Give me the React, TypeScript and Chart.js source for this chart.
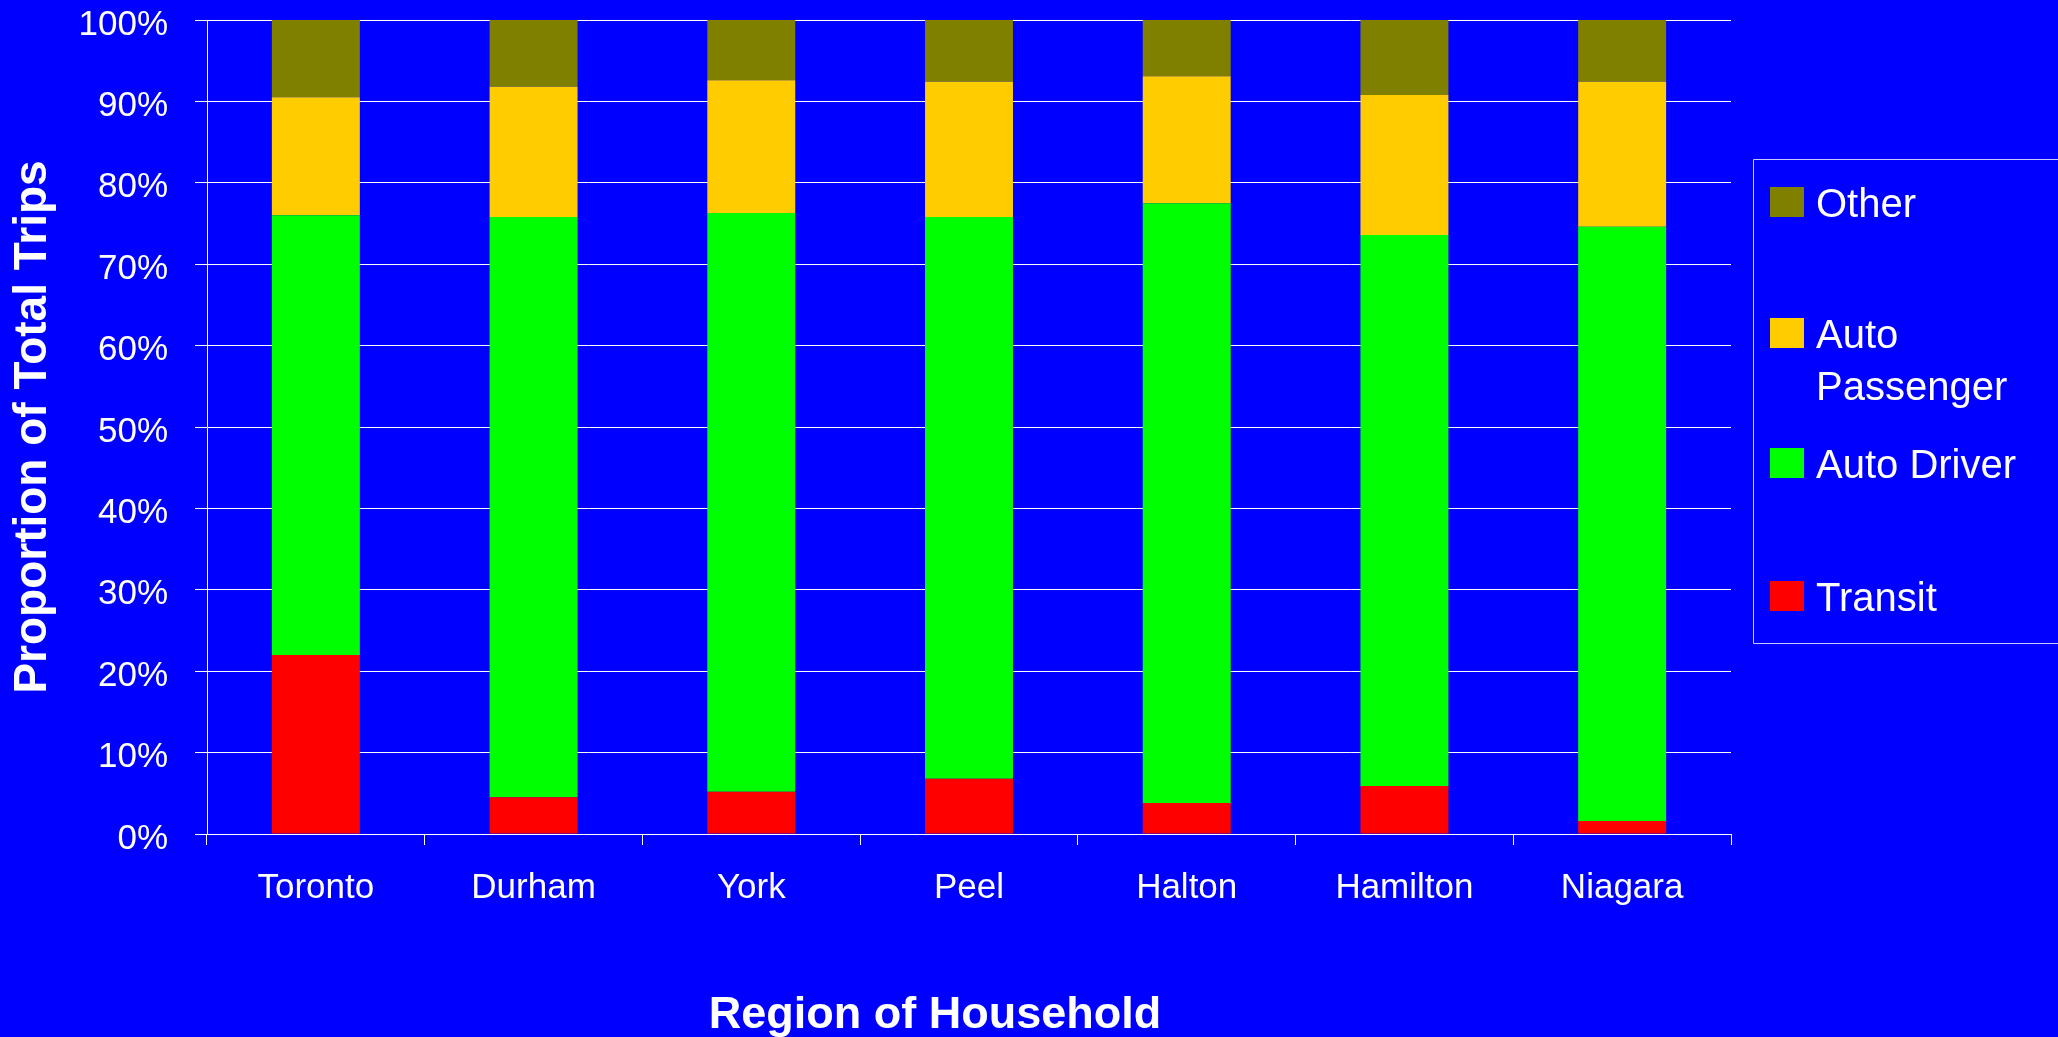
import React, { useEffect, useRef } from "react";
import { Chart, registerables } from "chart.js";

Chart.register(...registerables);

const categories = ["Toronto", "Durham", "York", "Peel", "Halton", "Hamilton", "Niagara"];
const transit = [22.0, 4.5, 5.2, 6.8, 3.8, 5.9, 1.6];
const autoDriver = [54.0, 71.3, 71.1, 69.0, 73.7, 67.7, 73.0];
const autoPassenger = [14.5, 16.0, 16.3, 16.6, 15.6, 17.2, 17.8];
const other = [9.5, 8.2, 7.4, 7.6, 6.9, 9.2, 7.6];
const yTicks = [0, 10, 20, 30, 40, 50, 60, 70, 80, 90, 100];
const xTitle = "Region of Household";
const yTitle = "Proportion of Total Trips";

const FONT = "'Liberation Sans', Arial, sans-serif";
const W = 2058;
const H = 1037;

const bgPlugin = {
  id: "bgFill",
  beforeDraw(chart: any) {
    const ctx = chart.ctx;
    ctx.save();
    ctx.fillStyle = "#0000FF";
    ctx.fillRect(0, 0, chart.width, chart.height);
    ctx.restore();
  },
};

const decorPlugin = {
  id: "decor",
  afterDraw(chart: any) {
    const ctx = chart.ctx;
    const area = chart.chartArea;
    ctx.save();
    ctx.fillStyle = "#FFFFFF";
    // X title
    ctx.font = `bold 45px ${FONT}`;
    ctx.textAlign = "center";
    ctx.textBaseline = "alphabetic";
    ctx.fillText(xTitle, area.left + 728, 1028);
    // Y title
    ctx.save();
    ctx.font = `bold 46px ${FONT}`;
    ctx.translate(46, (area.top + area.bottom) / 2);
    ctx.rotate(-Math.PI / 2);
    ctx.fillText(yTitle, 0, 0);
    ctx.restore();

    // Legend box
    const boxLeft = 1753.5;
    const boxTop = 159.5;
    const boxBottom = 643.5;
    ctx.strokeStyle = "#C8C8FF";
    ctx.lineWidth = 1;
    ctx.beginPath();
    ctx.moveTo(W + 2, boxTop);
    ctx.lineTo(boxLeft, boxTop);
    ctx.lineTo(boxLeft, boxBottom);
    ctx.lineTo(W + 2, boxBottom);
    ctx.stroke();

    const baselines = [217, 348, 478, 611];
    const datasets = chart.data.datasets.slice().reverse();
    ctx.font = `40px ${FONT}`;
    ctx.textAlign = "left";
    const textX = 1816;
    const maxW = W - textX - 4;
    datasets.forEach((ds: any, i: number) => {
      const b = baselines[i];
      ctx.fillStyle = ds.backgroundColor;
      ctx.fillRect(1770, b - 30, 34, 30);
      ctx.fillStyle = "#FFFFFF";
      const words = String(ds.label).split(" ");
      const lines: string[] = [];
      let cur = "";
      words.forEach((w) => {
        const test = cur ? cur + " " + w : w;
        if (ctx.measureText(test).width > maxW && cur) {
          lines.push(cur);
          cur = w;
        } else {
          cur = test;
        }
      });
      if (cur) lines.push(cur);
      lines.forEach((ln, j) => ctx.fillText(ln, textX, b + j * 52));
    });
    ctx.restore();
  },
};

export default function App() {
  const ref = useRef<HTMLCanvasElement | null>(null);
  useEffect(() => {
    document.body.style.margin = "0";
    document.body.style.background = "#0000FF";
    const canvas = ref.current!;
    const chart = new Chart(canvas, {
      type: "bar",
      data: {
        labels: categories,
        datasets: [
          { label: "Transit", data: transit, backgroundColor: "#FF0000" },
          { label: "Auto Driver", data: autoDriver, backgroundColor: "#00FF00" },
          { label: "Auto Passenger", data: autoPassenger, backgroundColor: "#FFCC00" },
          { label: "Other", data: other, backgroundColor: "#808000" },
        ],
      },
      options: {
        responsive: false,
        animation: false,
        devicePixelRatio: 1,
        datasets: { bar: { barPercentage: 0.404, categoryPercentage: 1.0 } },
        layout: { padding: { top: 20, right: W - 1731, left: 0, bottom: 0 } },
        plugins: {
          legend: { display: false },
          tooltip: { enabled: false },
          title: { display: false },
        },
        scales: {
          x: {
            stacked: true,
            grid: {
              display: true,
              drawOnChartArea: false,
              drawTicks: true,
              tickLength: 11,
              offset: true,
              color: "#FFFFFF",
              lineWidth: 1,
            },
            border: { display: true, color: "#FFFFFF", width: 1 },
            ticks: {
              color: "#FFFFFF",
              font: { family: FONT, size: 35 },
              padding: 22,
              maxRotation: 0,
              autoSkip: false,
            },
            afterFit: (s: any) => {
              s.height = H - 834;
              s.paddingLeft = 0;
              s.paddingRight = 0;
            },
          },
          y: {
            stacked: true,
            min: 0,
            max: 100,
            afterBuildTicks: (s: any) => {
              s.ticks = yTicks.map((v) => ({ value: v }));
            },
            grid: {
              color: "#FFFFFF",
              lineWidth: 1,
              drawTicks: true,
              tickLength: 12,
            },
            border: { display: true, color: "#FFFFFF", width: 1 },
            ticks: {
              color: "#FFFFFF",
              font: { family: FONT, size: 35 },
              padding: 27,
              labelOffset: 5,
              callback: (v: any) => `${v}%`,
            },
            afterFit: (s: any) => {
              s.width = 207;
              s.paddingTop = 0;
              s.paddingBottom = 0;
            },
          },
        },
      },
      plugins: [bgPlugin, decorPlugin],
    });
    return () => chart.destroy();
  }, []);
  return (
    <canvas
      ref={ref}
      width={W}
      height={H}
      style={{ display: "block", width: W, height: H }}
    />
  );
}
